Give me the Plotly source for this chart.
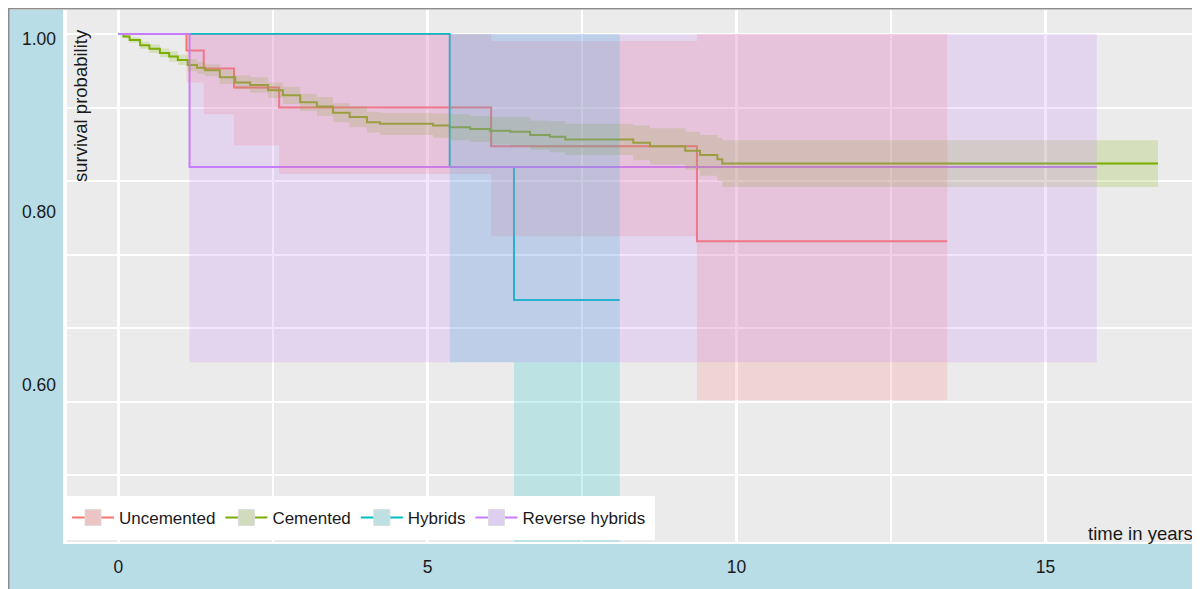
import plotly.graph_objects as go

# ---------------- data ----------------
groups = ["Uncemented", "Cemented", "Hybrids", "Reverse hybrids"]
line_colors = ["#F8766D", "#7CAE00", "#00BFC4", "#C77CFF"]
fill_colors = ["rgba(248,118,109,0.2)", "rgba(124,174,0,0.2)",
               "rgba(0,191,196,0.2)", "rgba(199,124,255,0.2)"]
key_colors = ["rgba(236,196,198,1)", "rgba(208,220,188,1)",
              "rgba(190,224,226,1)", "rgba(222,206,240,1)"]

unc_time = [0.00, 1.10, 1.38, 1.87, 2.60, 6.03, 9.36, 13.41]
unc_surv = [1.000, 0.981, 0.960, 0.938, 0.915, 0.870, 0.760, 0.760]
unc_lower = [1.000, 0.944, 0.907, 0.871, 0.838, 0.766, 0.576, 0.576]
unc_upper = [1.000, 1.000, 1.000, 1.000, 1.000, 0.992, 1.000, 1.000]

cem_time = [0.00, 0.08, 0.18, 0.35, 0.50, 0.67, 0.82, 0.96, 1.12, 1.27, 1.40, 1.64,
            1.89, 2.13, 2.42, 2.66, 2.94, 3.21, 3.47, 3.74, 4.02, 4.23, 5.09, 5.36,
            5.69, 6.01, 6.34, 6.66, 6.98, 7.23, 8.33, 8.60, 9.17, 9.41, 9.69, 9.77, 16.82]
cem_surv = [1.000, 0.997, 0.993, 0.987, 0.983, 0.978, 0.974, 0.970, 0.964, 0.961, 0.958, 0.950,
            0.944, 0.941, 0.935, 0.929, 0.921, 0.916, 0.909, 0.904, 0.898, 0.896, 0.894, 0.892,
            0.890, 0.888, 0.887, 0.883, 0.881, 0.878, 0.874, 0.870, 0.865, 0.860, 0.855, 0.850, 0.850]
cem_lower = [1.000, 0.995, 0.990, 0.983, 0.978, 0.973, 0.968, 0.964, 0.957, 0.954, 0.951, 0.942,
             0.936, 0.932, 0.926, 0.919, 0.911, 0.905, 0.898, 0.892, 0.886, 0.883, 0.880, 0.877,
             0.875, 0.872, 0.870, 0.866, 0.863, 0.860, 0.854, 0.849, 0.843, 0.836, 0.830, 0.823, 0.823]
cem_upper = [1.000, 0.999, 0.996, 0.991, 0.988, 0.983, 0.980, 0.976, 0.971, 0.968, 0.965, 0.958,
             0.952, 0.950, 0.944, 0.939, 0.931, 0.927, 0.920, 0.916, 0.910, 0.909, 0.908, 0.907,
             0.905, 0.904, 0.904, 0.900, 0.899, 0.896, 0.894, 0.891, 0.887, 0.883, 0.880, 0.877, 0.877]

hyb_time = [0.00, 5.36, 6.40, 8.11]
hyb_surv = [1.000, 0.846, 0.692, 0.692]
hyb_lower = [1.000, 0.620, 0.370, 0.370]
hyb_upper = [1.000, 1.000, 1.000, 1.000]

rev_time = [0.00, 1.15, 15.83]
rev_surv = [1.000, 0.846, 0.846]
rev_lower = [1.000, 0.620, 0.620]
rev_upper = [1.000, 1.000, 1.000]

times = [unc_time, cem_time, hyb_time, rev_time]
survs = [unc_surv, cem_surv, hyb_surv, rev_surv]
lowers = [unc_lower, cem_lower, hyb_lower, rev_lower]
uppers = [unc_upper, cem_upper, hyb_upper, rev_upper]

y_tickvals = [0.4, 0.6, 0.8, 1.0]
y_ticktext = ["0.40", "0.60", "0.80", "1.00"]
x_tickvals = [0, 5, 10, 15]
x_ticktext = ["0", "5", "10", "15"]

# ---------------- figure ----------------
fig = go.Figure()

# survival curves first (the ribbons are painted over them, as in the reference)
for i, g in enumerate(groups):
    fig.add_trace(go.Scatter(x=times[i], y=survs[i], mode="lines", name=g,
                             line=dict(color=line_colors[i], width=2, shape="hv"),
                             showlegend=False))

# confidence ribbons
for i, g in enumerate(groups):
    fig.add_trace(go.Scatter(x=times[i], y=lowers[i], mode="lines",
                             line=dict(width=0, shape="hv"),
                             showlegend=False, hoverinfo="skip"))
    fig.add_trace(go.Scatter(x=times[i], y=uppers[i], mode="lines",
                             line=dict(width=0, shape="hv"),
                             fill="tonexty", fillcolor=fill_colors[i],
                             showlegend=False, hoverinfo="skip"))

# legend keys
for i, g in enumerate(groups):
    fig.add_trace(go.Scatter(x=[None], y=[None], mode="lines+markers", name=g,
                             line=dict(color=line_colors[i], width=2),
                             marker=dict(symbol="square", size=16, color=key_colors[i],
                                         line=dict(color="#dcdcdc", width=1)),
                             showlegend=True))

# page offset of the plot div (browser body margin)
OFF = 8
W, H = 1192, 581
L, R, T, B = 59, 0, 2, 47
pw = W - L - R
ph = H - T - B


def px(xpage):
    return (xpage - OFF - L) / pw


def py(ypage):
    return (H - B - (ypage - OFF)) / ph


font_family = "Liberation Sans, Arial, sans-serif"
blue = "#B8DDE6"

shapes = [
    dict(type="rect", xref="paper", yref="paper", layer="below",
         x0=px(9), x1=px(63), y0=py(592), y1=py(10),
         fillcolor=blue, line=dict(width=0)),
    dict(type="rect", xref="paper", yref="paper", layer="below",
         x0=px(9), x1=px(1202), y0=py(592), y1=py(544),
         fillcolor=blue, line=dict(width=0)),
    dict(type="line", xref="paper", yref="paper", layer="below",
         x0=px(8.5), x1=px(8.5), y0=py(592), y1=py(8),
         line=dict(color="#8c8c8c", width=2)),
    dict(type="line", xref="paper", yref="paper", layer="below",
         x0=px(8), x1=px(1202), y0=py(8.5), y1=py(8.5),
         line=dict(color="#8c8c8c", width=2)),
]

annotations = [
    dict(text="survival probability", xref="paper", yref="paper",
         x=px(68), y=py(27), xanchor="left", yanchor="top", textangle=-90,
         showarrow=False, font=dict(family=font_family, size=18.5, color="#1a1a1a")),
    dict(text="time in years", xref="paper", yref="paper",
         x=px(1195), y=py(546), xanchor="right", yanchor="bottom",
         showarrow=False, font=dict(family=font_family, size=18.5, color="#1a1a1a")),
]

fig.update_layout(
    template="none",
    width=W, height=H,
    margin=dict(l=L, r=R, t=T, b=B, pad=0),
    paper_bgcolor="white",
    plot_bgcolor="#EBEBEB",
    font=dict(family=font_family, color="#1a1a1a"),
    shapes=shapes,
    annotations=annotations,
    showlegend=True,
    legend=dict(orientation="h", traceorder="normal",
                x=px(63), y=py(540), xanchor="left", yanchor="bottom",
                bgcolor="white", bordercolor="white", borderwidth=4,
                itemwidth=42,
                font=dict(family=font_family, size=17, color="#1a1a1a")),
    xaxis=dict(range=[-0.833, 17.50], tickmode="array", tickvals=x_tickvals,
               ticktext=x_ticktext, showgrid=True, gridcolor="white", gridwidth=2.5,
               zeroline=False, showline=False, ticks="", ticklabelstandoff=12,
               tickfont=dict(family=font_family, size=17.5, color="#1a1a1a"),
               minor=dict(dtick=2.5, tick0=2.5, showgrid=True, gridcolor="white",
                          gridwidth=2)),
    yaxis=dict(range=[0.412, 1.0278], tickmode="array", tickvals=y_tickvals,
               ticktext=y_ticktext, showgrid=False, zeroline=False, showline=False,
               ticks="", ticklabelstandoff=10, ticklabelshift=5,
               tickfont=dict(family=font_family, size=17.5, color="#1a1a1a"),
               minor=dict(tick0=1.0, dtick=0.0851, showgrid=True, gridcolor="white",
                          gridwidth=2)),
)

fig.write_html("out.html")
